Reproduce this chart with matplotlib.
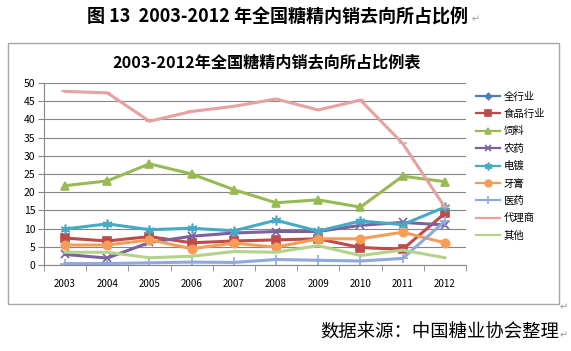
import numpy as np
import matplotlib.pyplot as plt
from matplotlib.patches import Rectangle

plt.rcParams['font.family'] = ['Noto Sans CJK SC', 'DejaVu Sans']

years = ['2003', '2004', '2005', '2006', '2007', '2008', '2009', '2010', '2011', '2012']

# 各去向所占比例 (%)
quan_hangye = [100, 100, 100, 100, 100, 100, 100, 100, 100, 100]  # 全行业, 在图外
shipin = [7.4, 6.6, 7.8, 6.1, 6.6, 6.9, 7.2, 4.8, 4.3, 14.2]
siliao = [21.8, 23.1, 27.8, 25.0, 20.7, 17.1, 17.9, 15.9, 24.4, 22.9]
nongyao = [2.9, 1.9, 6.2, 7.9, 8.8, 9.2, 9.2, 10.9, 11.7, 11.0]
diandu = [9.9, 11.3, 9.7, 10.1, 9.4, 12.3, 9.3, 12.1, 11.1, 15.9]
yagao = [5.5, 5.5, 6.9, 4.5, 6.0, 4.9, 7.2, 7.2, 9.0, 6.1]
yiyao = [0.4, 0.4, 0.6, 0.8, 0.7, 1.5, 1.3, 1.1, 1.8, 12.0]
dailishang = [47.7, 47.3, 39.5, 42.2, 43.6, 45.6, 42.6, 45.3, 33.4, 15.9]
qita = [3.5, 3.5, 2.0, 2.4, 3.7, 3.5, 5.3, 2.6, 4.1, 2.0]

series = [
    ('全行业', quan_hangye, '#4A7EBB', 'D', 4),
    ('食品行业', shipin, '#BE4B48', 's', 6),
    ('饲料', siliao, '#98B954', '^', 6),
    ('农药', nongyao, '#7D60A0', 'x', 6),
    ('电镀', diandu, '#46AAC5', (6, 2, 0), 7),
    ('牙膏', yagao, '#F59D56', 'o', 6),
    ('医药', yiyao, '#8EA9DB', '+', 7),
    ('代理商', dailishang, '#E6A1A0', '_', 6),
    ('其他', qita, '#B4D38A', None, 0),
]

fig = plt.figure(figsize=(5.71, 3.51), dpi=100)
ax = fig.add_axes([0.077, 0.245, 0.739, 0.5185])

x = np.arange(len(years))
for name, vals, color, marker, ms in series:
    ax.plot(x, vals, color=color, lw=2.2, marker=marker, ms=ms,
            markeredgewidth=1.2, label=name)

ax.set_xlim(-0.5, len(years) - 0.5)
ax.set_ylim(0, 50)
ax.set_yticks(np.arange(0, 51, 5))
ax.set_xticks(x)
ax.set_xticklabels(years)
ax.set_xticks(np.arange(-0.5, len(years), 1), minor=True)
ax.tick_params(axis='x', which='major', length=0, labelsize=7, pad=10)
ax.tick_params(axis='x', which='minor', length=4, color='#868686', direction='out')
ax.tick_params(axis='y', length=4, color='#868686', labelsize=7.5, pad=2)
ax.yaxis.grid(True, color='#868686', lw=0.8)
ax.set_axisbelow(True)
for s in ['top', 'right']:
    ax.spines[s].set_visible(False)
for s in ['left', 'bottom']:
    ax.spines[s].set_color('#868686')

leg = ax.legend(loc='upper left', bbox_to_anchor=(1.015, 0.975), frameon=False,
                fontsize=7.5, handlelength=2.3, handletextpad=0.3,
                labelspacing=0.7, borderaxespad=0)
for h in leg.get_lines():
    h.set_linewidth(1.6)
    h.set_markersize(h.get_markersize() * 0.8)

# 图表外框
fig.patches.append(Rectangle((8 / 571, 1 - 304 / 351), 551 / 571, 261 / 351,
                             transform=fig.transFigure, fill=False,
                             edgecolor='#A6A6A6', lw=1))

fig.text(0.486, 0.952, '图 13  2003-2012 年全国糖精内销去向所占比例', ha='center',
         va='center', fontsize=13, fontweight='bold')
fig.text(0.826, 0.946, '↵', ha='left', va='center', fontsize=7, color='#999999',
         family='DejaVu Sans')
fig.text(0.467, 0.823, '2003-2012年全国糖精内销去向所占比例表', ha='center',
         va='center', fontsize=11.6, fontweight='bold')
fig.text(0.98, 0.052, '数据来源：中国糖业协会整理', ha='right', va='center',
         fontsize=13.2)
fig.text(0.98, 0.046, '↵', ha='left', va='center', fontsize=7, color='#999999',
         family='DejaVu Sans')
fig.text(0.98, 0.125, '↵', ha='left', va='center', fontsize=7, color='#999999',
         family='DejaVu Sans')

fig.savefig('out.png', dpi=100)
